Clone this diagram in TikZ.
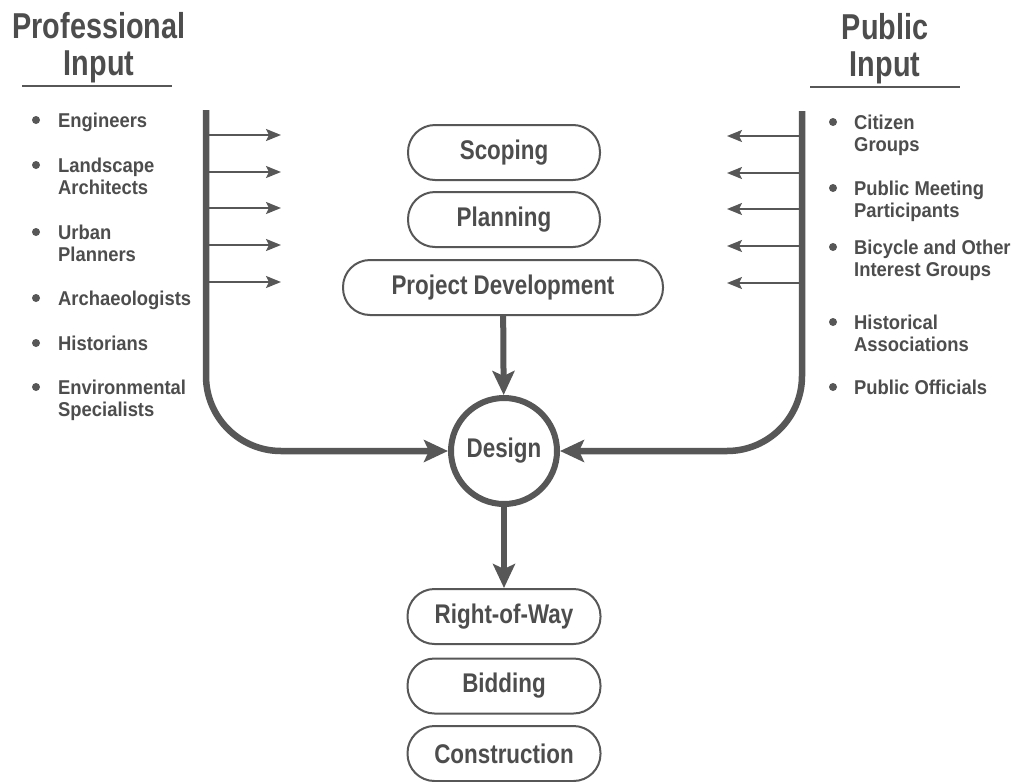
\documentclass[tikz,border=0pt]{standalone}
\usepackage{fontspec}
\setmainfont{Liberation Sans}
\newfontfamily\titlefont[FakeStretch=0.80]{Liberation Sans}
\newfontfamily\boxfont[FakeStretch=0.83]{Liberation Sans}
\newfontfamily\itemfont[FakeStretch=0.92]{Liberation Sans}
\usetikzlibrary{arrows.meta}
\definecolor{ink}{HTML}{575757}
\definecolor{txt}{HTML}{4D4D4D}
\begin{document}
\begin{tikzpicture}[x=1pt,y=-1pt,
  title/.style={inner sep=0pt, anchor=north, align=center, text=txt,
    font=\titlefont\bfseries\fontsize{36}{37}\selectfont},
  item/.style={inner sep=0pt, anchor=north west, align=left, text=txt,
    font=\itemfont\bfseries\fontsize{20}{22}\selectfont},
  bullet/.style={circle, fill=ink, inner sep=0pt, minimum size=8pt},
  stage/.style={draw=ink, line width=2pt, rounded corners=27pt, minimum height=55pt,
    inner sep=0pt, text=txt, font=\boxfont\bfseries\fontsize{27}{30}\selectfont},
  hub/.style={circle, draw=ink, line width=6pt, minimum size=106pt, inner sep=0pt,
    text=txt, font=\boxfont\bfseries\fontsize{27}{30}\selectfont},
  bigarrow/.style={draw=ink, line width=6pt, -{Stealth[length=24pt,width=22pt,inset=5pt]}},
  rail/.style={draw=ink, line width=6.5pt, rounded corners=75pt,
    -{Stealth[length=24pt,width=22pt,inset=5pt]}},
  feedarrow/.style={draw=ink, line width=2pt, -{Stealth[length=15pt,width=12pt,inset=3pt]}},
  rulebar/.style={draw=ink, line width=2.5pt}
]
\useasboundingbox (0,0) rectangle (1015,782);
\fill[white] (0,0) rectangle (1015,782);

% titles
\node[title] (ptitle) at (99,12) {Professional\\Input};
\node[title] (utitle) at (885,13) {Public\\Input};
\coordinate (pr1) at (22,86); \coordinate (pr2) at (172,86);
\coordinate (ur1) at (810,87); \coordinate (ur2) at (960,87);
\draw[rulebar] (pr1) -- (pr2);
\draw[rulebar] (ur1) -- (ur2);

% left items
\node[bullet] (lb1) at (36,120) {};
\node[item] (li1) at (58,113) {Engineers};
\node[bullet] (lb2) at (36,165) {};
\node[item] (li2) at (58,158) {Landscape\\Architects};
\node[bullet] (lb3) at (36,232) {};
\node[item] (li3) at (58,225) {Urban\\Planners};
\node[bullet] (lb4) at (36,298) {};
\node[item] (li4) at (58,291) {Archaeologists};
\node[bullet] (lb5) at (36,343) {};
\node[item] (li5) at (58,336) {Historians};
\node[bullet] (lb6) at (36,387) {};
\node[item] (li6) at (58,380) {Environmental\\Specialists};

% right items
\node[bullet] (rb1) at (833,122) {};
\node[item] (ri1) at (854,115) {Citizen\\Groups};
\node[bullet] (rb2) at (833,188) {};
\node[item] (ri2) at (854,181) {Public Meeting\\Participants};
\node[bullet] (rb3) at (833,247) {};
\node[item] (ri3) at (854,240) {Bicycle and Other\\Interest Groups};
\node[bullet] (rb4) at (833,322) {};
\node[item] (ri4) at (854,315) {Historical\\Associations};
\node[bullet] (rb5) at (833,387) {};
\node[item] (ri5) at (854,380) {Public Officials};

% stages
\node[stage, minimum width=192pt] (scoping) at (504,152.5) {Scoping};
\node[stage, minimum width=192pt] (planning) at (504,219.5) {Planning};
\node[stage, minimum width=320pt] (projdev) at (503,287.5) {Project Development};
\node[hub] (design) at (504,451) {Design};
\node[stage, minimum width=193pt] (row) at (504,616.5) {Right-of-Way};
\node[stage, minimum width=193pt] (bidding) at (504,686) {Bidding};
\node[stage, minimum width=193pt] (constr) at (504,753.5) {Construction};

\draw[bigarrow] (projdev) -- (design);
\draw[bigarrow] (design) -- (row);

% rails
\coordinate (ltop) at (206,110);
\coordinate (rtop) at (802,111);
\draw[rail] (ltop) |- (design.west);
\draw[rail] (rtop) |- (design.east);

% feed arrows
\foreach \i/\y in {1/135,2/172,3/208,4/245,5/282}{
  \coordinate (ls\i) at (206,\y);
  \coordinate (le\i) at (281,\y);
  \draw[feedarrow] (ls\i) -- (le\i);
}
\foreach \i/\y in {1/136,2/173,3/209,4/246,5/283}{
  \coordinate (rs\i) at (802,\y);
  \coordinate (re\i) at (727,\y);
  \draw[feedarrow] (rs\i) -- (re\i);
}
\end{tikzpicture}
\end{document}
